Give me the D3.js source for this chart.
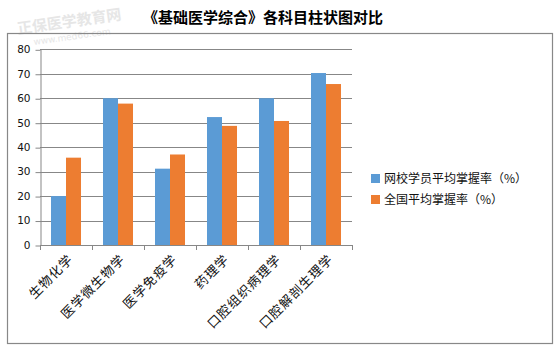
<!DOCTYPE html>
<html>
<head>
<meta charset="utf-8">
<script src="https://cdn.jsdelivr.net/npm/d3@7/dist/d3.min.js"></script>
<style>
  body { margin: 0; background: #fff; }
  svg { display: block; }
</style>
</head>
<body>
<div id="chart"></div>
<script>
// chart data
var categories = ["生物化学", "医学微生物学", "医学免疫学", "药理学", "口腔组织病理学", "口腔解剖生理学"];
var seriesNames = ["网校学员平均掌握率（%）", "全国平均掌握率（%）"];
var schoolValues = [20, 60, 31.2, 52.3, 60, 70.3];
var nationalValues = [35.7, 57.8, 37, 48.7, 50.7, 65.8];
var yTicks = [0, 10, 20, 30, 40, 50, 60, 70, 80];
var colors = ["#5B9BD5", "#ED7D31"];

var W = 560, H = 351;
var cjk = "'Noto Sans CJK SC', 'Noto Sans', sans-serif";

var svg = d3.select("#chart")
  .append("svg")
    .attr("width", W)
    .attr("height", H);

svg.append("rect").attr("width", W).attr("height", H).attr("fill", "#fff");

// faint watermark
svg.append("text")
    .attr("transform", "translate(18,34) rotate(-8)")
    .attr("font-family", cjk)
    .attr("font-size", 15)
    .attr("font-weight", "bold")
    .attr("fill", "#e6e6e6")
    .text("正保医学教育网");
svg.append("text")
    .attr("transform", "translate(34,45) rotate(-8)")
    .attr("font-family", "'DejaVu Sans', sans-serif")
    .attr("font-size", 9)
    .attr("fill", "#e6e6e6")
    .text("www.med66.com");

// title
svg.append("text")
    .attr("x", 263)
    .attr("y", 23)
    .attr("text-anchor", "middle")
    .attr("font-family", cjk)
    .attr("font-size", 15)
    .attr("font-weight", "bold")
    .attr("fill", "#000")
    .text("《基础医学综合》各科目柱状图对比");

// chart border
svg.append("rect")
    .attr("x", 7.5)
    .attr("y", 33.5)
    .attr("width", 545)
    .attr("height", 310)
    .attr("fill", "none")
    .attr("stroke", "#888")
    .attr("stroke-width", 1.2);

var margin = {left: 40, top: 49.3, right: 352, bottom: 245};

var x = d3.scaleBand()
    .domain(categories)
    .range([margin.left, margin.right])
    .paddingInner(0.423)
    .paddingOuter(0.2115);

var xSub = d3.scaleBand()
    .domain([0, 1])
    .range([0, x.bandwidth()]);

var y = d3.scaleLinear()
    .domain([0, 80])
    .range([margin.bottom, margin.top]);

// gridlines
svg.append("g")
  .selectAll("line")
  .data(yTicks)
  .enter()
  .append("line")
    .attr("x1", margin.left)
    .attr("x2", margin.right)
    .attr("y1", function (d) { return Math.round(y(d)) + 0.5; })
    .attr("y2", function (d) { return Math.round(y(d)) + 0.5; })
    .attr("stroke", "#878787")
    .attr("stroke-width", 1);

// bars
var groups = svg.append("g")
  .selectAll("g")
  .data(categories)
  .enter()
  .append("g")
    .attr("transform", function (d) { return "translate(" + x(d) + ",0)"; });

groups.selectAll("rect")
  .data(function (d, i) { return [schoolValues[i], nationalValues[i]]; })
  .enter()
  .append("rect")
    .attr("x", function (d, j) { return xSub(j); })
    .attr("width", xSub.bandwidth())
    .attr("y", function (d) { return y(d); })
    .attr("height", function (d) { return y(0) - y(d); })
    .attr("fill", function (d, j) { return colors[j]; });

// y axis
var yAxis = svg.append("g")
    .attr("transform", "translate(" + (margin.left + 0.5) + ",0)")
    .call(d3.axisLeft(y).tickValues(yTicks).tickSize(5).tickPadding(5).tickSizeOuter(0));
yAxis.select(".domain").attr("stroke", "#878787");
yAxis.selectAll(".tick line").attr("stroke", "#878787")
    .attr("transform", "translate(0,0.5)");
yAxis.selectAll(".tick text")
    .attr("font-family", "'DejaVu Sans', sans-serif")
    .attr("font-size", 10.5)
    .attr("fill", "#111");

// x axis: ticks at band boundaries
var bounds = d3.range(categories.length + 1).map(function (i) {
  return margin.left + i * x.step();
});
var xAxis = svg.append("g");
xAxis.append("line")
    .attr("x1", margin.left)
    .attr("x2", margin.right)
    .attr("y1", Math.round(y(0)) + 0.5)
    .attr("y2", Math.round(y(0)) + 0.5)
    .attr("stroke", "#878787");
xAxis.selectAll(".xt")
  .data(bounds)
  .enter()
  .append("line")
    .attr("class", "xt")
    .attr("x1", function (d) { return Math.round(d) + 0.5; })
    .attr("x2", function (d) { return Math.round(d) + 0.5; })
    .attr("y1", Math.round(y(0)))
    .attr("y2", Math.round(y(0)) + 5)
    .attr("stroke", "#878787");

xAxis.selectAll(".xl")
  .data(categories)
  .enter()
  .append("text")
    .attr("class", "xl")
    .attr("transform", function (d) {
      return "translate(" + (x(d) + x.bandwidth() / 2 + 8) + "," + (y(0) + 15) + ") rotate(-45)";
    })
    .attr("text-anchor", "end")
    .attr("font-family", cjk)
    .attr("font-size", 13)
    .attr("letter-spacing", 1)
    .attr("fill", "#111")
    .text(function (d) { return d; });

// legend
var legend = svg.append("g")
  .selectAll("g")
  .data(seriesNames)
  .enter()
  .append("g")
    .attr("transform", function (d, i) { return "translate(371," + (174 + i * 21) + ")"; });

legend.append("rect")
    .attr("width", 9)
    .attr("height", 9)
    .attr("fill", function (d, i) { return colors[i]; });

legend.append("text")
    .attr("x", 13)
    .attr("y", 4.5)
    .attr("dy", "0.36em")
    .attr("font-family", cjk)
    .attr("font-size", 12)
    .attr("fill", "#111")
    .text(function (d) { return d; });
</script>
</body>
</html>
